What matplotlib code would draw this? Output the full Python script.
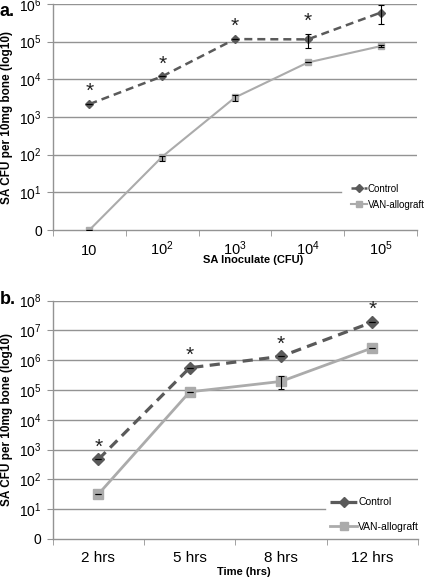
import numpy as np
import matplotlib.pyplot as plt
import matplotlib.transforms as mtransforms

plt.rcParams['font.family'] = ['Liberation Sans', 'DejaVu Sans']
plt.rcParams['mathtext.fontset'] = 'custom'
plt.rcParams['mathtext.rm'] = 'Liberation Sans'
plt.rcParams['mathtext.it'] = 'Liberation Sans:italic'
plt.rcParams['mathtext.bf'] = 'Liberation Sans:bold'

# ---- data, panel a (CFU per 10mg bone) ----
inoc_labels = ['10', r'$\mathregular{10^2}$', r'$\mathregular{10^3}$',
               r'$\mathregular{10^4}$', r'$\mathregular{10^5}$']
ctrl_a = [2200, 12000, 117000, 115000, 590000]
ctrl_a_lo = [2200, 12000, 117000, 66000, 295000]
ctrl_a_hi = [2200, 12000, 117000, 162000, 955000]
van_a = [0, 88, 3300, 28000, 76000]
van_a_lo = [0, 68, 2630, 28000, 72000]
van_a_hi = [0, 95, 3890, 28000, 80000]
star_a = [True, True, True, True, False]

# ---- data, panel b ----
time_labels = ['2 hrs', '5 hrs', '8 hrs', '12 hrs']
ctrl_b = [470, 560000, 1350000, 19000000]
van_b = [32, 87000, 195000, 2600000]
van_b_lo = [32, 87000, 110000, 2600000]
van_b_hi = [32, 87000, 295000, 2600000]
star_b = [True, True, True, True]

CTRL_C = '#5a5a5a'
VAN_C = '#ababab'
GRID_C = '#939393'


def lg(v):
    # 0 CFU is drawn on the "0" baseline
    return np.log10(np.clip(np.asarray(v, dtype=float), 1, None))


def style_axes(ax, ncat, ntop, cut):
    ax.set_xlim(-0.5, ncat - 0.5)
    ax.set_ylim(0, ntop)
    for k in range(1, ntop + 1):
        ax.axhline(k, xmax=cut if k == 1 else 1, color=GRID_C, lw=1, zorder=0)
    for s in ['top', 'right']:
        ax.spines[s].set_visible(False)
    for s in ['left', 'bottom']:
        ax.spines[s].set_color(GRID_C)
        ax.spines[s].set_linewidth(1)
    ax.set_yticks(range(ntop + 1))
    ax.set_yticklabels(['0'] + [r'$\mathregular{10^{%d}}$' % k for k in range(1, ntop + 1)],
                       fontsize=10)
    ax.set_xticks(range(ncat))
    ax.set_xticklabels([])
    ax.set_xticks(np.arange(ncat + 1) - 0.5, minor=True)
    ax.tick_params(axis='x', which='major', length=0)
    ax.tick_params(axis='x', which='minor', length=4, color=GRID_C, direction='out')
    ax.tick_params(axis='y', length=4, color=GRID_C, pad=4)


def cat_labels(ax, labels, ybase, fs):
    # category labels sitting on a common baseline
    trans = mtransforms.blended_transform_factory(ax.transData, ax.transAxes)
    for i, lab in enumerate(labels):
        ax.text(i, ybase, lab, transform=trans, ha='center', va='baseline', fontsize=fs)


def plot_panel(ax, ctrl, van, ctrl_lo, ctrl_hi, van_lo, van_hi, stars, ms_c, ms_v, lw_c, lw_v):
    x = np.arange(len(ctrl))
    ax.plot(x, lg(van), color=VAN_C, lw=lw_v, marker='s', ms=ms_v, zorder=3,
            label='VAN-allograft')
    ax.plot(x, lg(ctrl), color=CTRL_C, lw=lw_c, ls=(0, (3.2, 2.0)), marker='D', ms=ms_c,
            zorder=4, label='Control')
    for vals, lo, hi in [(ctrl, ctrl_lo, ctrl_hi), (van, van_lo, van_hi)]:
        yv = lg(vals)
        err = np.vstack([yv - lg(lo), lg(hi) - yv])
        ax.errorbar(x, yv, yerr=err, fmt='none', ecolor='black', elinewidth=0.8,
                    capsize=2.5, capthick=0.8, zorder=5)
    top = np.maximum(lg(ctrl), lg(ctrl_hi))
    for xi, yi, s in zip(x, top, stars):
        if s:
            ax.annotate('*', (xi, yi), xytext=(0, 3), textcoords='offset pixels',
                        ha='center', va='bottom', fontsize=15, color='#222222')


fig = plt.figure(figsize=(4.25, 5.78), dpi=100)

ax1 = fig.add_axes([53 / 425, 1 - 230 / 578, 364 / 425, 226 / 578])
style_axes(ax1, 5, 6, 0.791)
cat_labels(ax1, inoc_labels, -25 / 226, 10.5)
plot_panel(ax1, ctrl_a, van_a, ctrl_a_lo, ctrl_a_hi, van_a_lo, van_a_hi, star_a,
           4, 4.8, 1.8, 1.5)
ax1.yaxis.set_label_coords(-0.11, 0.566)
ax1.set_ylabel('SA CFU per 10mg bone (log10)', fontsize=8.5, fontweight='bold')
ax1.text(0.55, -0.133, 'SA Inoculate (CFU)', transform=ax1.transAxes, ha='center',
         va='center', fontsize=8, fontweight='bold')
h, l = ax1.get_legend_handles_labels()
ax1.legend(h[::-1], l[::-1], loc='upper left', bbox_to_anchor=(0.82, 0.205), frameon=False,
           fontsize=7, handlelength=1.55, handletextpad=0.1, labelspacing=0.6,
           borderpad=0, borderaxespad=0, markerscale=0.9)

ax2 = fig.add_axes([52.7 / 425, 1 - 539 / 578, 365.3 / 425, 238.3 / 578])
style_axes(ax2, 4, 8, 0.745)
cat_labels(ax2, time_labels, -23 / 238.3, 11)
plot_panel(ax2, ctrl_b, van_b, ctrl_b, ctrl_b, van_b_lo, van_b_hi, star_b,
           5.8, 6.5, 2.3, 2.0)
ax2.yaxis.set_label_coords(-0.109, 0.405)
ax2.set_ylabel('SA CFU per 10mg bone (log10)', fontsize=8.5, fontweight='bold')
ax2.text(0.524, -0.138, 'Time (hrs)', transform=ax2.transAxes, ha='center',
         va='center', fontsize=8, fontweight='bold')
h, l = ax2.get_legend_handles_labels()
ax2.legend(h[::-1], l[::-1], loc='upper left', bbox_to_anchor=(0.759, 0.175), frameon=False,
           fontsize=7.5, handlelength=2.6, handletextpad=0.1, labelspacing=1.4,
           borderpad=0, borderaxespad=0, markerscale=0.85)

fig.text(0.0, 1 - 11 / 578, 'a.', fontsize=13, fontweight='bold', va='center', ha='left')
fig.text(0.0, 1 - 299 / 578, 'b.', fontsize=13, fontweight='bold', va='center', ha='left')

fig.savefig('out.png', dpi=100)
